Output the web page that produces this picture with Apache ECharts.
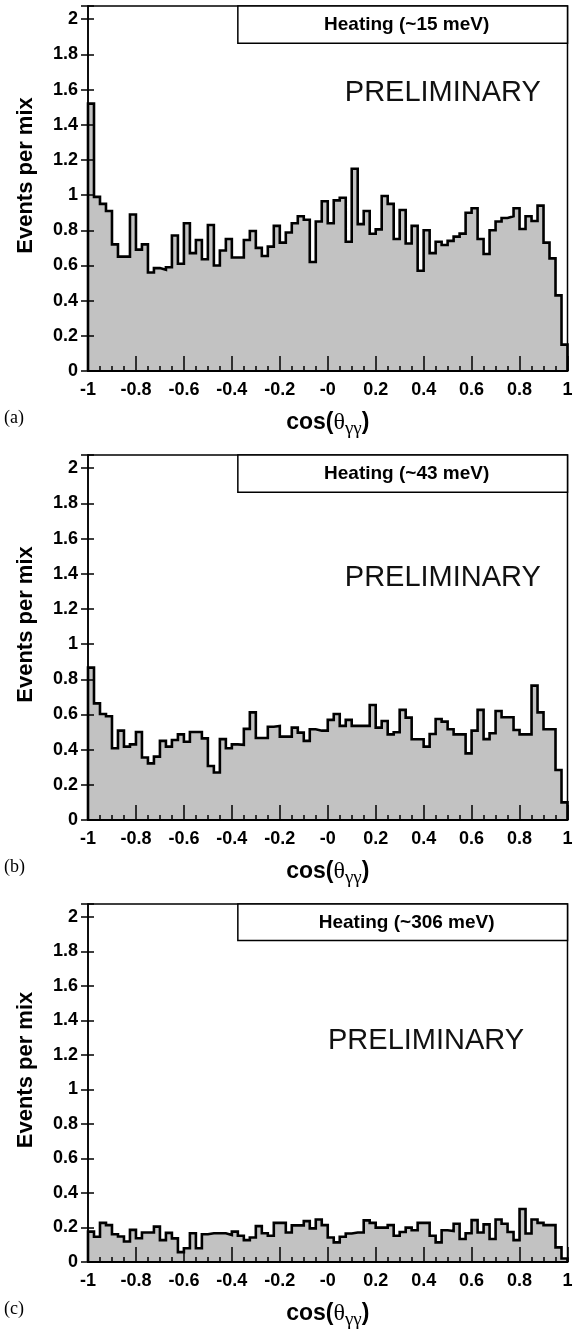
<!DOCTYPE html>
<html>
<head>
<meta charset="utf-8">
<script src="https://cdn.jsdelivr.net/npm/echarts@6/dist/echarts.min.js"></script>
<style>
html,body{margin:0;padding:0;background:#fff;}
#c{width:583px;height:1331px;}
</style>
</head>
<body>
<div id="c"></div>
<script>
// ---- data (bin contents, 80 bins of width 0.025 from -1 to 1) ----
const X_MIN = -1, X_MAX = 1, BIN_WIDTH = 0.025;
const panelLabels = ['(a)', '(b)', '(c)'];
const heatingLabels = ['Heating (~15 meV)', 'Heating (~43 meV)', 'Heating (~306 meV)'];
const yTickLabels = ['0','0.2','0.4','0.6','0.8','1','1.2','1.4','1.6','1.8','2'];
const xTickLabels = ['-1','-0.8','-0.6','-0.4','-0.2','-0','0.2','0.4','0.6','0.8','1'];

const valuesA = [1.52, 0.99, 0.95, 0.91, 0.72, 0.65, 0.65, 0.89, 0.69, 0.72,
 0.56, 0.585, 0.575, 0.59, 0.77, 0.61, 0.84, 0.67, 0.745, 0.635,
 0.83, 0.60, 0.685, 0.75, 0.645, 0.645, 0.745, 0.796, 0.70, 0.654,
 0.707, 0.825, 0.73, 0.787, 0.84, 0.88, 0.86, 0.62, 0.85, 0.965,
 0.84, 0.97, 0.985, 0.735, 1.15, 0.835, 0.91, 0.78, 0.805, 0.995,
 0.95, 0.75, 0.915, 0.725, 0.825, 0.57, 0.80, 0.67, 0.735, 0.716,
 0.74, 0.764, 0.781, 0.90, 0.925, 0.75, 0.665, 0.80, 0.85, 0.87,
 0.88, 0.925, 0.807, 0.88, 0.853, 0.94, 0.73, 0.64, 0.43, 0.15];

const valuesB = [0.866, 0.663, 0.603, 0.59, 0.408, 0.508, 0.417, 0.43, 0.50, 0.355,
 0.322, 0.36, 0.45, 0.417, 0.455, 0.487, 0.445, 0.50, 0.50, 0.464,
 0.307, 0.27, 0.46, 0.408, 0.43, 0.427, 0.518, 0.612, 0.466, 0.466,
 0.53, 0.535, 0.474, 0.474, 0.525, 0.497, 0.45, 0.516, 0.508, 0.508,
 0.569, 0.603, 0.535, 0.569, 0.535, 0.535, 0.535, 0.654, 0.525, 0.563,
 0.487, 0.499, 0.626, 0.582, 0.459, 0.459, 0.417, 0.489, 0.574, 0.559,
 0.516, 0.487, 0.487, 0.379, 0.508, 0.626, 0.46, 0.493, 0.62, 0.584,
 0.584, 0.512, 0.487, 0.487, 0.764, 0.612, 0.516, 0.516, 0.284, 0.10];

const valuesC = [0.176, 0.146, 0.227, 0.214, 0.161, 0.148, 0.119, 0.186, 0.138, 0.171,
 0.171, 0.205, 0.127, 0.169, 0.137, 0.057, 0.08, 0.167, 0.08, 0.161,
 0.167, 0.167, 0.167, 0.157, 0.176, 0.152, 0.127, 0.142, 0.208, 0.167,
 0.152, 0.227, 0.227, 0.171, 0.212, 0.212, 0.237, 0.195, 0.246, 0.214,
 0.142, 0.114, 0.146, 0.165, 0.171, 0.171, 0.241, 0.227, 0.199, 0.199,
 0.214, 0.152, 0.174, 0.199, 0.184, 0.227, 0.227, 0.152, 0.114, 0.184,
 0.18, 0.222, 0.133, 0.167, 0.243, 0.171, 0.218, 0.133, 0.246, 0.222,
 0.174, 0.127, 0.307, 0.165, 0.246, 0.227, 0.214, 0.214, 0.085, 0.02];

const allValues = [valuesA, valuesB, valuesC];

// ---- layout ----
const GRID_LEFT = 88, GRID_W = 479.5, GRID_H = 365;
const gridTops = [6, 455, 904];
const Y_MAX = 2.075;
const prelimPos = [[0.48, 1.58], [0.48, 1.375], [0.41, 1.28]]; // data coords of text centre
const boxFrom = [-0.375, 1.863];

function stepData(vals) {
  const d = [[X_MIN, 0]];
  vals.forEach((v, k) => d.push([X_MIN + k * BIN_WIDTH, v]));
  d.push([X_MAX, vals[vals.length - 1]]);
  d.push([X_MAX, 0]);
  return d;
}
function xFmt(v) {
  const i = Math.round((v - X_MIN) / 0.2);
  return Math.abs(v - (X_MIN + i * 0.2)) < 1e-6 ? xTickLabels[i] : '';
}
function yFmt(v) {
  const i = Math.round(v / 0.2);
  return Math.abs(v - i * 0.2) < 1e-6 && i < yTickLabels.length ? yTickLabels[i] : '';
}

const FONT = 'Liberation Sans, Arial, Helvetica, sans-serif';
const grids = [], xAxes = [], yAxes = [], series = [];
allValues.forEach((vals, p) => {
  grids.push({left: GRID_LEFT, top: gridTops[p], width: GRID_W, height: GRID_H, show: true,
    borderColor: '#000', borderWidth: 1.5, backgroundColor: 'transparent', z: 4});
  xAxes.push({type: 'value', gridIndex: p, position: 'bottom', min: X_MIN, max: X_MAX, interval: 0.2, z: 5,
    axisLine: {show: true, onZero: false, lineStyle: {color: '#000', width: 2}},
    axisTick: {show: true, inside: true, length: 15, lineStyle: {color: '#000', width: 1.5}},
    minorTick: {show: true, splitNumber: 4, length: 5, lineStyle: {color: '#000', width: 1.5}},
    splitLine: {show: false},
    axisLabel: {formatter: xFmt, color: '#000', fontSize: 18, fontWeight: 'bold', fontFamily: FONT, margin: 10},
    name: '{a|cos(}{t|θ}{s|γγ}{a|)}', nameLocation: 'middle', nameGap: 35,
    nameTextStyle: {color: '#000', rich: {
      a: {fontSize: 23, fontWeight: 'bold', fontFamily: FONT, color: '#000'},
      t: {fontSize: 24, fontFamily: 'Liberation Serif, serif', color: '#000'},
      s: {fontSize: 19, fontFamily: 'Liberation Serif, serif', color: '#000', padding: [14, 0, 0, 0]}
    }}
  });
  yAxes.push({type: 'value', gridIndex: p, position: 'left', min: 0, max: Y_MAX, interval: 0.2, z: 5,
    axisLine: {show: true, onZero: false, lineStyle: {color: '#000', width: 1.5}},
    axisTick: {show: true, inside: false, length: 7, lineStyle: {color: '#000', width: 1.5}},
    splitLine: {show: false},
    axisLabel: {formatter: yFmt, color: '#000', fontSize: 18, fontWeight: 'bold', fontFamily: FONT, margin: 10},
    name: 'Events per mix', nameLocation: 'middle', nameGap: 51,
    nameTextStyle: {color: '#000', fontSize: 22, fontWeight: 'bold', fontFamily: FONT, padding: [0, 0, 0, 26]}
  });
  yAxes.push({type: 'value', gridIndex: p, position: 'left', offset: 0, min: 0, max: Y_MAX, interval: 0.2, z: 5,
    axisLine: {show: false, onZero: false}, axisLabel: {show: false}, splitLine: {show: false},
    axisTick: {show: true, inside: true, length: 6, lineStyle: {color: '#000', width: 1.5}}
  });
  series.push({type: 'line', xAxisIndex: p, yAxisIndex: 2 * p, data: stepData(vals), step: 'end',
    symbol: 'none', silent: true, z: 2,
    lineStyle: {color: '#000', width: 2.6, join: 'miter'},
    areaStyle: {color: '#c2c2c2', opacity: 1}
  });
});

const chart = echarts.init(document.getElementById('c'), null, {renderer: 'canvas'});
chart.setOption({animation: false, backgroundColor: '#fff', grid: grids, xAxis: xAxes, yAxis: yAxes, series: series});

// annotations placed in data coordinates of each panel
const graphics = [];
allValues.forEach((vals, p) => {
  const tl = chart.convertToPixel({gridIndex: p}, [boxFrom[0], Y_MAX]);
  const br = chart.convertToPixel({gridIndex: p}, [X_MAX, boxFrom[1]]);
  graphics.push({type: 'rect', z: 10, shape: {x: tl[0], y: tl[1], width: br[0] - tl[0], height: br[1] - tl[1]},
    style: {fill: '#fff', stroke: '#000', lineWidth: 1.5}});
  graphics.push({type: 'text', z: 11, x: (tl[0] + br[0]) / 2 + 4, y: (tl[1] + br[1]) / 2,
    style: {text: heatingLabels[p], fill: '#000', font: 'bold 19px ' + FONT, textAlign: 'center', textVerticalAlign: 'middle'}});
  const pp = chart.convertToPixel({gridIndex: p}, prelimPos[p]);
  graphics.push({type: 'text', z: 11, x: pp[0], y: pp[1],
    style: {text: 'PRELIMINARY', fill: '#111', font: '29px ' + FONT, textAlign: 'center', textVerticalAlign: 'middle'}});
  const zero = chart.convertToPixel({gridIndex: p}, [X_MIN, 0]);
  graphics.push({type: 'text', z: 11, x: 4, y: zero[1] + 47,
    style: {text: panelLabels[p], fill: '#000', font: '18px Liberation Serif, serif', textAlign: 'left', textVerticalAlign: 'middle'}});
});
chart.setOption({graphic: graphics});
</script>
</body>
</html>
